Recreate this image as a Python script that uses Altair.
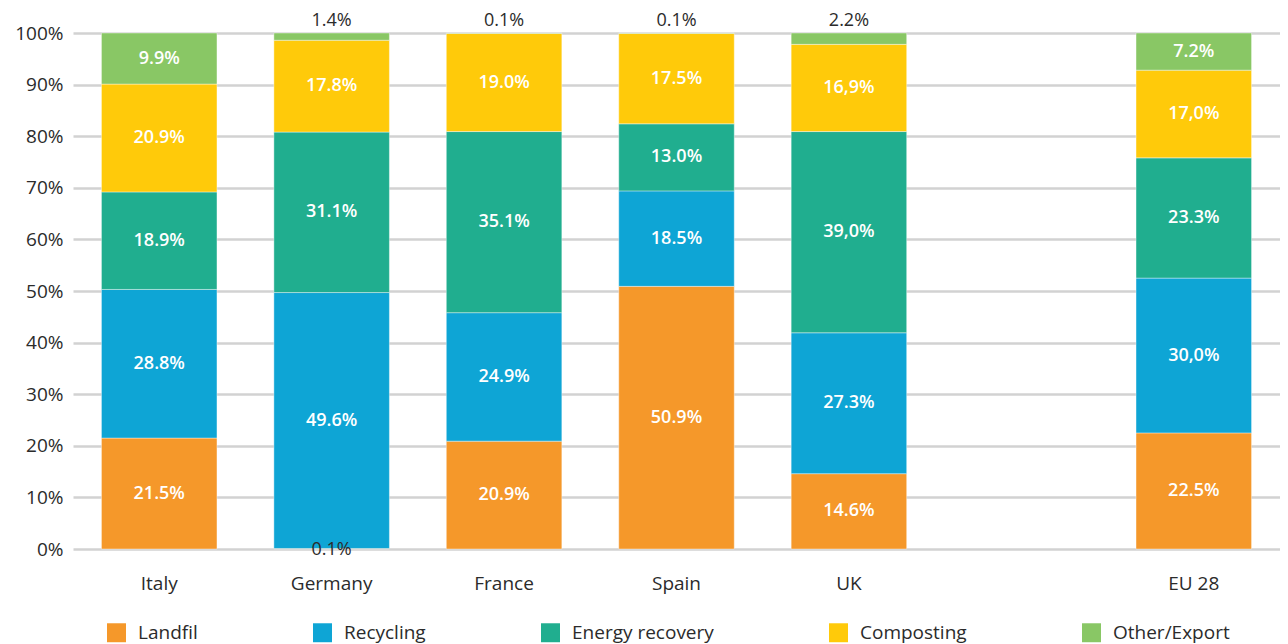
import altair as alt
import pandas as pd

countries = ["Italy", "Germany", "France", "Spain", "UK", "EU 28"]
x_domain = ["Italy", "Germany", "France", "Spain", "UK", " ", "EU 28"]
categories = ["Landfil", "Recycling", "Energy recovery", "Composting", "Other/Export"]
colors = ["#F5982A", "#0EA5D5", "#20AE8F", "#FFCA0A", "#89C765"]

landfil = [21.5, 0.1, 20.9, 50.9, 14.6, 22.5]
recycling = [28.8, 49.6, 24.9, 18.5, 27.3, 30.0]
energy = [18.9, 31.1, 35.1, 13.0, 39.0, 23.3]
composting = [20.9, 17.8, 19.0, 17.5, 16.9, 17.0]
other = [9.9, 1.4, 0.1, 0.1, 2.2, 7.2]

landfil_lbl = ["21.5%", "0.1%", "20.9%", "50.9%", "14.6%", "22.5%"]
recycling_lbl = ["28.8%", "49.6%", "24.9%", "18.5%", "27.3%", "30,0%"]
energy_lbl = ["18.9%", "31.1%", "35.1%", "13.0%", "39,0%", "23.3%"]
composting_lbl = ["20.9%", "17.8%", "19.0%", "17.5%", "16,9%", "17,0%"]
other_lbl = ["9.9%", "1.4%", "0.1%", "0.1%", "2.2%", "7.2%"]

series = [landfil, recycling, energy, composting, other]
labels = [landfil_lbl, recycling_lbl, energy_lbl, composting_lbl, other_lbl]

rows = []
for ci, (cat, vals, lbls) in enumerate(zip(categories, series, labels)):
    for c, v, l in zip(countries, vals, lbls):
        rows.append({"country": c, "category": cat, "value": v, "label": l, "ord": ci})
df = pd.DataFrame(rows)

FONT = "Open Sans"
TXT = "#2b2b2b"

base = alt.Chart(df).transform_stack(
    stack="value", groupby=["country"], sort=[{"field": "ord", "order": "ascending"}],
    as_=["y0", "y1"]
).transform_calculate(mid="(datum.y0 + datum.y1) / 2")

x_enc = alt.X("country:N", scale=alt.Scale(domain=x_domain, paddingInner=0.33, paddingOuter=0.165),
              axis=alt.Axis(title=None, labelAngle=0, ticks=False, domain=False, labelPadding=25,
                            labelFontSize=19, labelColor=TXT, labelFont=FONT))

bars = base.mark_bar(stroke="white", strokeWidth=0.4).encode(
    x=x_enc,
    y=alt.Y("y0:Q", scale=alt.Scale(domain=[0, 100]),
            axis=alt.Axis(title=None, values=list(range(0, 101, 10)), labelExpr="datum.value + '%'",
                          ticks=False, domain=False, labelPadding=10, labelFontSize=19,
                          labelColor=TXT, labelFont=FONT, gridColor="#d2d2d2", gridWidth=2.5)),
    y2="y1:Q",
    color=alt.Color("category:N", scale=alt.Scale(domain=categories, range=colors),
                    legend=alt.Legend(title=None, orient="none", direction="horizontal",
                                      legendX=34, legendY=590, symbolType="square", symbolSize=360,
                                      symbolStrokeWidth=0, labelFontSize=19, labelFont=FONT,
                                      labelColor=TXT, labelOffset=12, columnPadding=115,
                                      symbolOpacity=1)),
)

inside = base.transform_filter("datum.value >= 5").mark_text(
    color="white", fontSize=18, fontWeight=600, font=FONT, baseline="middle"
).encode(x=alt.X("country:N", scale=alt.Scale(domain=x_domain)), y="mid:Q", text="label:N")

top_out = base.transform_filter("datum.value < 5 && datum.category == 'Other/Export'").mark_text(
    color=TXT, fontSize=18, font=FONT, baseline="middle", dy=-12
).encode(x=alt.X("country:N", scale=alt.Scale(domain=x_domain)), y="y1:Q", text="label:N")

bot_out = base.transform_filter("datum.value < 5 && datum.category == 'Landfil'").mark_text(
    color=TXT, fontSize=18, font=FONT, baseline="middle", dy=1
).encode(x=alt.X("country:N", scale=alt.Scale(domain=x_domain)), y="y0:Q", text="label:N")

chart = alt.layer(bars, inside, top_out, bot_out).properties(
    width=1207, height=516,
    autosize=alt.AutoSizeParams(type="none"),
    padding={"left": 65, "top": 25, "right": 0, "bottom": 95},
).configure_view(stroke=None).configure_axis(grid=True).configure_axisX(grid=False)

chart.save("out.html", embed_options={"renderer": "svg", "actions": False})
